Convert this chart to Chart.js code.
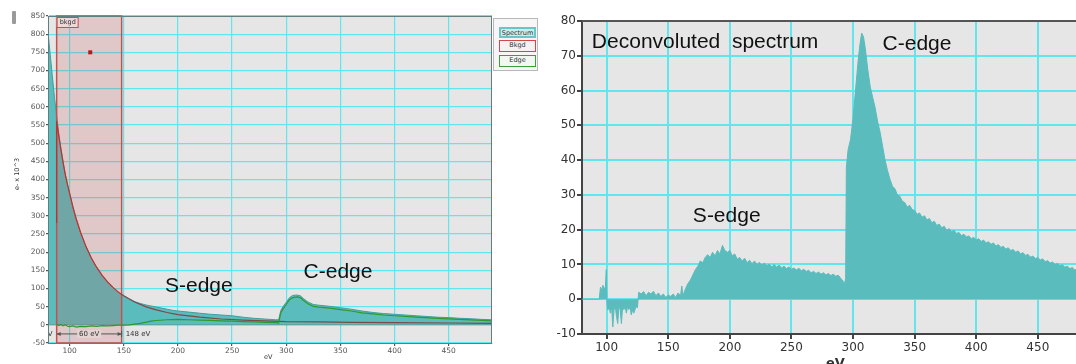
<!DOCTYPE html>
<html><head><meta charset="utf-8">
<script src="https://cdn.jsdelivr.net/npm/chart.js@4.4.1/dist/chart.umd.min.js"></script>
<style>
html,body{margin:0;padding:0;background:#fff;width:1076px;height:364px;overflow:hidden;position:relative;font-family:"DejaVu Sans",sans-serif}
#c1{position:absolute;left:0;top:0}
#c2{position:absolute;left:540px;top:0}
#grip{position:absolute;left:12px;top:11px;width:4px;height:13px;background:#9a9a9a;border-radius:1px}
#legend{position:absolute;left:493px;top:18px;width:45px;height:53px;border:1px solid #b8b8b8;background:#f6f6f6;box-sizing:border-box}
.it{position:absolute;left:5px;width:37px;font-size:6.5px;line-height:9px;text-align:center;color:#333;box-sizing:border-box}
#ytl{position:absolute;left:-8px;top:170px;width:50px;text-align:center;font-size:6.5px;color:#333;transform:rotate(-90deg)}
#xtl{position:absolute;left:264px;top:353px;font-size:6.5px;color:#333}
#xtr{position:absolute;left:826px;top:355px;font-size:13px;font-weight:bold;color:#333}
</style></head><body>
<canvas id="c1" width="540" height="364"></canvas>
<canvas id="c2" width="536" height="364"></canvas>
<div id="grip"></div>
<div id="legend">
  <div class="it" style="top:8px;height:11px;border:2px solid #6cc4c4;background:#cfeaea">Spectrum</div>
  <div class="it" style="top:21px;height:12px;border:1.5px solid #d04848;background:#f7f1f1">Bkgd</div>
  <div class="it" style="top:36px;height:12px;border:1.5px solid #3aa03a;background:#f1f7f1">Edge</div>
</div>
<div id="ytl">e- x 10^3</div>
<div id="xtl">eV</div>
<div id="xtr">eV</div>
<script>
// ---------- Left panel: raw spectrum with background fit ----------
const xTicksL = [100,150,200,250,300,350,400,450];
const yTicksL = [-50,0,50,100,150,200,250,300,350,400,450,500,550,600,650,700,750,800,850];
const specE = [80,82,84,86,88,90,92,94,96,98,100,103,106,110,115,120,125,130,135,140,145,150,155,160,165,170,175,180,185,190,195,200,210,220,230,240,250,260,270,280,290,293,295,297,300,303,306,310,313,316,320,325,330,340,350,360,370,380,390,400,410,420,430,440,450,460,470,480,490];
const specV = [805,745,685,625,575,525,485,448,415,387,362,325,293,255,216,184,158,136,118,103,90,79,71,64,59,55,52,49,46,43,40,38,35,32,29,27,25,21,18,16,14,14,40,50,62,75,81,82,80,72,63,56,54,51,47,43,38,34,31,29,27,25,23,21,20,18,17,15,14];
const bkgdE = [88,88,90,92,94,96,98,100,103,106,110,115,120,125,130,135,140,145,150,160,170,180,190,200,220,240,260,280,300,330,360,400,450,490];
const bkgdV = [280,560,518,480,445,413,386,361,324,292,255,216,184,158,136,118,103,90,80,63,50,41,34,28,21,16,13,11,9,8,7,6,5,4];
const edgeE = [88,90,92,94,96,98,100,103,106,110,115,120,125,130,135,140,145,150,155,160,165,170,175,180,190,200,210,220,230,240,250,260,270,280,290,293,295,297,300,303,306,310,313,316,320,325,330,340,350,360,370,380,390,400,420,440,460,480,490];
const edgeV = [2,-2,1,-3,0,-4,-5,-3,-6,-4,-5,-3,-4,-2,-3,-2,-1,-1,0,2,4,7,10,12,14,15,14,13,12,11,10,9,8,7,6,5,33,44,56,69,75,77,75,67,58,51,49,46,42,38,33,30,27,25,21,18,15,12,11];
const bkgdWindow = [88, 148];
const bkgdMarker = [119, 750];

// ---------- Right panel: deconvoluted spectrum ----------
const xTicksR = [100,150,200,250,300,350,400,450];
const yTicksR = [-10,0,10,20,30,40,50,60,70,80];
const decE = [80,94,95,96,97,98,99,99.7,100.3,101,
  102,103,104,105,106,107,108,109,110,111,
  112,113,114,115,116,117,118,119,120,121,
  122,123,124,125,126,128,130,132,134,136,
  138,140,142,144,146,148,150,152,154,156,
  158,160,161,162,164,166,168,170,172,174,
  176,178,180,182,184,186,188,190,192,194,
  196,198,200,202,204,206,208,210,212,214,
  216,218,220,222,224,226,228,230,232,234,
  236,238,240,242,244,246,248,250,252,254,
  256,258,260,262,264,266,268,270,272,274,
  276,278,280,282,284,286,288,290,292,293,
  294,294.6,296,298,300,302,304,305.5,307,308.5,
  310,312,314,316,318,320,322,324,326,328,
  330,332,334,336,338,340,342,344,346,348,
  350,352,354,356,358,360,362,364,366,368,
  370,372,374,376,378,380,382,384,386,388,
  390,392,394,396,398,400,402,404,406,408,
  410,412,414,416,418,420,422,424,426,428,
  430,432,434,436,438,440,442,444,446,448,
  450,452,454,456,458,460,462,464,466,468,
  470,472,474,476,478,480,482];
const decV = [0,0,3.5,2.5,4,3,3.5,8.5,-1,-3,
  -2,-4,-2,-8,-3,-2,-5,-7,-2,-3,
  -7,-2,-3,-2,-4,-2,-3,-2,-4.5,-3,
  -4,-3,-2,-2.5,2,1.5,2.2,1,2,1.5,
  2.3,1,1.8,0.8,1.5,0.5,1.2,0.8,1.5,0.5,
  1.8,1,3.8,1,3,4.5,5.5,7,8.5,9.5,
  11,10.5,12,12.8,12,13.5,12.5,14,13,15.5,
  14,13.5,14,12.5,13,11.5,12,11,11.8,10.5,
  11.2,10.2,11,10,10.6,9.8,10.4,9.6,10.1,9.3,
  10,9.2,9.8,9,9.5,8.8,9.3,8.6,9,8.4,
  8.9,8.2,8.6,8,8.3,7.6,8,7.4,7.8,7.2,
  7.6,7,7.4,6.8,7.2,6.6,6.9,6,5.2,4.2,
  6,38,43,46,52,60,68,73,76.5,75.5,
  72,66,61,58,55,51,48,44,40,37,
  34.5,32.5,31.8,30,29.6,28.2,27.8,26.5,27,25.8,
  25.5,24.4,24.8,23.6,24,22.8,23.2,22,22.4,21.2,
  21.6,20.5,21,19.8,20.3,19.4,19.8,18.9,19.2,18.3,
  18.7,17.9,18.2,17.4,17.8,17,17.4,16.6,17,16.2,
  16.5,15.8,16.2,15.3,15.7,14.9,15.2,14.4,14.8,14,
  14.3,13.5,13.9,13,13.4,12.6,12.9,12.1,12.4,11.7,
  12,11.3,11.6,10.8,11.1,10.4,10.7,10,10.3,9.6,
  9.9,9.2,9.5,8.8,9.1,8.4,8.7];

const pts = (xs, ys) => xs.map((x, i) => ({x: x, y: ys[i]}));
const CYAN = '#60e6ec';
const TEAL = '#5abcbc';
const PLOTBG = '#e6e6e6';

function txt(chart, s, xv, yv, font, color, align) {
  const c = chart.ctx;
  c.save();
  c.font = font; c.fillStyle = color || '#111';
  c.textAlign = align || 'left'; c.textBaseline = 'alphabetic';
  c.fillText(s, chart.scales.x.getPixelForValue(xv), chart.scales.y.getPixelForValue(yv));
  c.restore();
}

const leftDecor = {
  id: 'leftDecor',
  beforeDraw(chart) {
    const a = chart.chartArea, c = chart.ctx;
    c.save(); c.fillStyle = PLOTBG; c.fillRect(a.left, a.top, a.right - a.left, a.bottom - a.top); c.restore();
  },
  afterDatasetDraw(chart, args) {
    if (args.index !== 0) return;
    const c = chart.ctx, a = chart.chartArea, x = chart.scales.x, y = chart.scales.y;
    const x0 = x.getPixelForValue(bkgdWindow[0]), x1 = x.getPixelForValue(bkgdWindow[1]);
    c.save();
    c.fillStyle = 'rgba(200,80,80,0.2)';
    c.fillRect(x0, a.top, x1 - x0, a.bottom - a.top);
    c.strokeStyle = '#c65050'; c.lineWidth = 1.5;
    c.strokeRect(x0, a.top, x1 - x0, a.bottom - a.top);
    c.fillStyle = '#eadada'; c.fillRect(x0, a.top + 1, 21, 10);
    c.strokeStyle = '#c65050'; c.lineWidth = 1; c.strokeRect(x0 + 0.5, a.top + 1.5, 21, 10);
    c.fillStyle = '#333'; c.font = '6.5px "DejaVu Sans"'; c.textBaseline = 'middle';
    c.fillText('bkgd', x0 + 3, a.top + 6.5);
    c.fillStyle = '#cc1010';
    const mx = x.getPixelForValue(bkgdMarker[0]), my = y.getPixelForValue(bkgdMarker[1]);
    c.fillRect(mx - 2, my - 2, 4, 4);
    c.restore();
  },
  afterDraw(chart) {
    const c = chart.ctx, a = chart.chartArea, x = chart.scales.x, y = chart.scales.y;
    const yy = y.getPixelForValue(-25);
    const x0 = x.getPixelForValue(bkgdWindow[0]), x1 = x.getPixelForValue(bkgdWindow[1]);
    c.save();
    c.strokeStyle = '#555'; c.lineWidth = 1;
    c.beginPath(); c.moveTo(x0, yy); c.lineTo(x1, yy); c.stroke();
    c.fillStyle = '#555';
    c.beginPath(); c.moveTo(x0, yy); c.lineTo(x0 + 4, yy - 2); c.lineTo(x0 + 4, yy + 2); c.fill();
    c.beginPath(); c.moveTo(x1, yy); c.lineTo(x1 - 4, yy - 2); c.lineTo(x1 - 4, yy + 2); c.fill();
    c.beginPath(); c.moveTo(x1, yy - 3); c.lineTo(x1, yy + 3); c.stroke();
    c.font = '7px "DejaVu Sans"'; c.textBaseline = 'middle';
    const mid = (x0 + x1) / 2;
    c.fillStyle = '#e4d4d4'; c.fillRect(mid - 12, yy - 4, 24, 8);
    c.fillStyle = '#333'; c.textAlign = 'center'; c.fillText('60 eV', mid, yy);
    c.textAlign = 'left'; c.fillText('148 eV', x1 + 4, yy);
    c.textAlign = 'right'; c.fillText('V', x0 - 4, yy);
    c.strokeStyle = '#5f7f80'; c.lineWidth = 1;
    c.strokeRect(a.left + 0.5, a.top + 0.5, a.right - a.left - 1, a.bottom - a.top);
    c.restore();
    txt(chart, 'S-edge', 188, 90, '21px "Liberation Sans"', '#111');
    txt(chart, 'C-edge', 316, 129, '21px "Liberation Sans"', '#111');
  }
};

const rightDecor = {
  id: 'rightDecor',
  beforeDraw(chart) {
    const a = chart.chartArea, c = chart.ctx;
    c.save(); c.fillStyle = PLOTBG; c.fillRect(a.left, a.top, a.right - a.left, a.bottom - a.top); c.restore();
  },
  afterDraw(chart) {
    const a = chart.chartArea, c = chart.ctx;
    c.save(); c.strokeStyle = '#555'; c.lineWidth = 2;
    c.beginPath(); c.moveTo(a.left, a.top); c.lineTo(a.right, a.top); c.stroke(); c.restore();
    txt(chart, 'Deconvoluted  spectrum', 88, 72.2, '21px "Liberation Sans"', '#111');
    txt(chart, 'C-edge', 324, 71.6, '21px "Liberation Sans"', '#111');
    txt(chart, 'S-edge', 170, 22.2, '21px "Liberation Sans"', '#111');
  }
};

const common = {
  animation: false, responsive: false, devicePixelRatio: 1,
  plugins: {legend: {display: false}, tooltip: {enabled: false}},
  elements: {point: {radius: 0}, line: {tension: 0}}
};

new Chart(document.getElementById('c1'), {
  type: 'line',
  data: {datasets: [
    {data: pts(specE, specV), borderColor: '#3f9f9f', borderWidth: 1, backgroundColor: TEAL, fill: 'origin', order: 3},
    {data: pts(bkgdE, bkgdV), borderWidth: 1.2, fill: false, order: 2,
     borderColor: '#c03030',
     segment: {borderColor: ctx => ctx.p0.parsed.x >= bkgdWindow[1] ? '#7a4a4a' : '#c03030'}},
    {data: pts(edgeE, edgeV), borderColor: '#2e9a2e', borderWidth: 1.2, fill: false, order: 1}
  ]},
  options: Object.assign({}, common, {
    layout: {padding: {top: 16, right: 48, left: 0, bottom: 0}},
    scales: {
      x: {type: 'linear', min: 80, max: 490,
        afterBuildTicks: s => { s.ticks = xTicksL.map(v => ({value: v})); },
        afterFit: s => { s.height = 21; },
        ticks: {font: {size: 7.5, family: 'DejaVu Sans'}, color: '#555', padding: 1, maxRotation: 0},
        grid: {color: CYAN, lineWidth: 1.2, tickLength: 3, tickColor: '#555'},
        border: {color: '#555', width: 1}},
      y: {type: 'linear', min: -50, max: 850,
        afterBuildTicks: s => { s.ticks = yTicksL.map(v => ({value: v})); },
        afterFit: s => { s.width = 48; },
        ticks: {font: {size: 7.5, family: 'DejaVu Sans'}, color: '#555', padding: 1},
        grid: {color: ctx => (ctx.tick && ctx.tick.value === 0) ? '#6a6a6a' : CYAN, lineWidth: 1.2, tickLength: 2, tickColor: '#555'},
        border: {color: '#555', width: 1}}
    }
  }),
  plugins: [leftDecor]
});

new Chart(document.getElementById('c2'), {
  type: 'line',
  data: {datasets: [
    {data: pts(decE, decV), borderColor: TEAL, borderWidth: 1, backgroundColor: TEAL, fill: 'origin'}
  ]},
  options: Object.assign({}, common, {
    layout: {padding: {top: 21, right: 0, left: 0, bottom: 0}},
    scales: {
      x: {type: 'linear', min: 80, max: 481,
        afterBuildTicks: s => { s.ticks = xTicksR.map(v => ({value: v})); },
        afterFit: s => { s.height = 30; },
        ticks: {font: {size: 12, family: 'DejaVu Sans'}, color: '#333', padding: 2, maxRotation: 0},
        grid: {color: CYAN, lineWidth: 2, tickLength: 5, tickColor: '#444'},
        border: {color: '#444', width: 2}},
      y: {type: 'linear', min: -10, max: 80,
        afterBuildTicks: s => { s.ticks = yTicksR.map(v => ({value: v})); },
        afterFit: s => { s.width = 42; },
        ticks: {font: {size: 12, family: 'DejaVu Sans'}, color: '#333', padding: 1},
        grid: {color: CYAN, lineWidth: 2, tickLength: 5, tickColor: '#444'},
        border: {color: '#444', width: 2}}
    }
  }),
  plugins: [rightDecor]
});
</script>
</body></html>
